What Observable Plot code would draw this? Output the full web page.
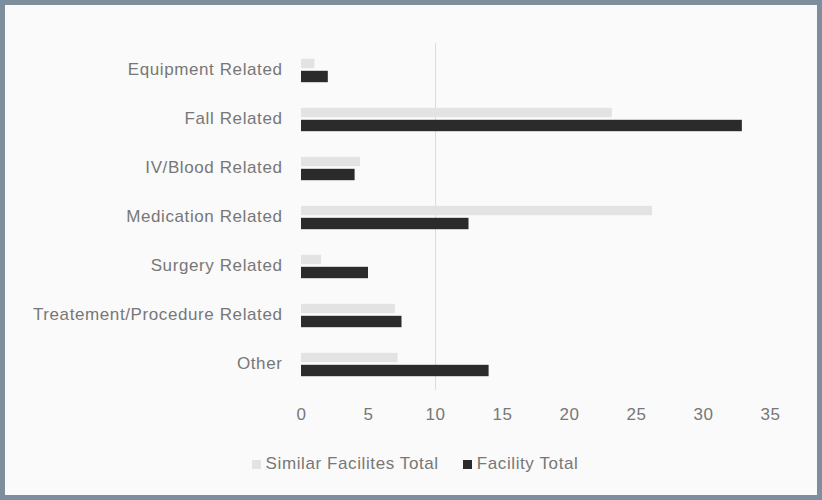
<!DOCTYPE html>
<html>
<head>
<meta charset="utf-8">
<script src="https://cdn.jsdelivr.net/npm/d3@7"></script>
<script src="https://cdn.jsdelivr.net/npm/@observablehq/plot@0.6"></script>
<style>
  html, body { margin: 0; padding: 0; background: #fff; }
  #frame {
    width: 822px; height: 500px; box-sizing: border-box;
    border: 5px solid #7d8e9d; background: #fafafa; position: relative; overflow: hidden;
    font-family: "Liberation Sans", "DejaVu Sans", sans-serif;
  }
  #legend {
    position: absolute; left: 0; right: 0; top: 449px;
    display: flex; justify-content: center; gap: 24px;
    font-size: 17px; letter-spacing: 0.6px; color: #777; padding-left: 8px;
  }
  #legend span.item { display: inline-flex; align-items: center; gap: 5px; }
  #legend span.sw { width: 9px; height: 9px; display: inline-block; }
  #chart svg text { letter-spacing: 0.6px; }
</style>
</head>
<body>
<div id="frame">
  <div id="chart"></div>
  <div id="legend"></div>
</div>
<script>
const categories = [
  "Equipment Related",
  "Fall Related",
  "IV/Blood Related",
  "Medication Related",
  "Surgery Related",
  "Treatement/Procedure Related",
  "Other"
];
const similarFacilitiesTotal = [1, 23.2, 4.4, 26.2, 1.5, 7, 7.2];
const facilityTotal = [2, 32.9, 4, 12.5, 5, 7.5, 14];
const seriesNames = ["Similar Facilites Total", "Facility Total"];
const seriesColors = ["#e3e3e3", "#2b2b2b"];
const xTicks = [0, 5, 10, 15, 20, 25, 30, 35];
const gridTicks = [10];

const rows = categories.map((c, i) => ({
  category: c,
  similar: similarFacilitiesTotal[i],
  facility: facilityTotal[i]
}));

const chart = Plot.plot({
  width: 812,
  height: 430,
  marginLeft: 296,
  marginRight: 47,
  marginTop: 38,
  marginBottom: 45,
  style: { fontFamily: "Liberation Sans, DejaVu Sans, sans-serif", fontSize: "17px", color: "#777", background: "transparent" },
  x: { domain: [0, 35], ticks: xTicks, label: null },
  y: { domain: categories, padding: 0, label: null },
  marks: [
    Plot.ruleX(gridTicks, { stroke: "#dcdcdc", strokeWidth: 1 }),
    Plot.barX(rows, { y: "category", x: "similar", fill: seriesColors[0], insetTop: 13.8, insetBottom: 25.8 }),
    Plot.barX(rows, { y: "category", x: "facility", fill: seriesColors[1], insetTop: 25.8, insetBottom: 11.8 }),
    Plot.axisX({ ticks: xTicks, tickSize: 0, tickPadding: 17, label: null, fill: "#777" }),
    Plot.axisY({ tickSize: 0, tickPadding: 19, label: null, fill: "#777" })
  ]
});
document.getElementById("chart").appendChild(chart);

const legend = document.getElementById("legend");
seriesNames.forEach((name, i) => {
  const item = document.createElement("span");
  item.className = "item";
  const sw = document.createElement("span");
  sw.className = "sw";
  sw.style.background = seriesColors[i];
  item.appendChild(sw);
  item.appendChild(document.createTextNode(name));
  legend.appendChild(item);
});
</script>
</body>
</html>
